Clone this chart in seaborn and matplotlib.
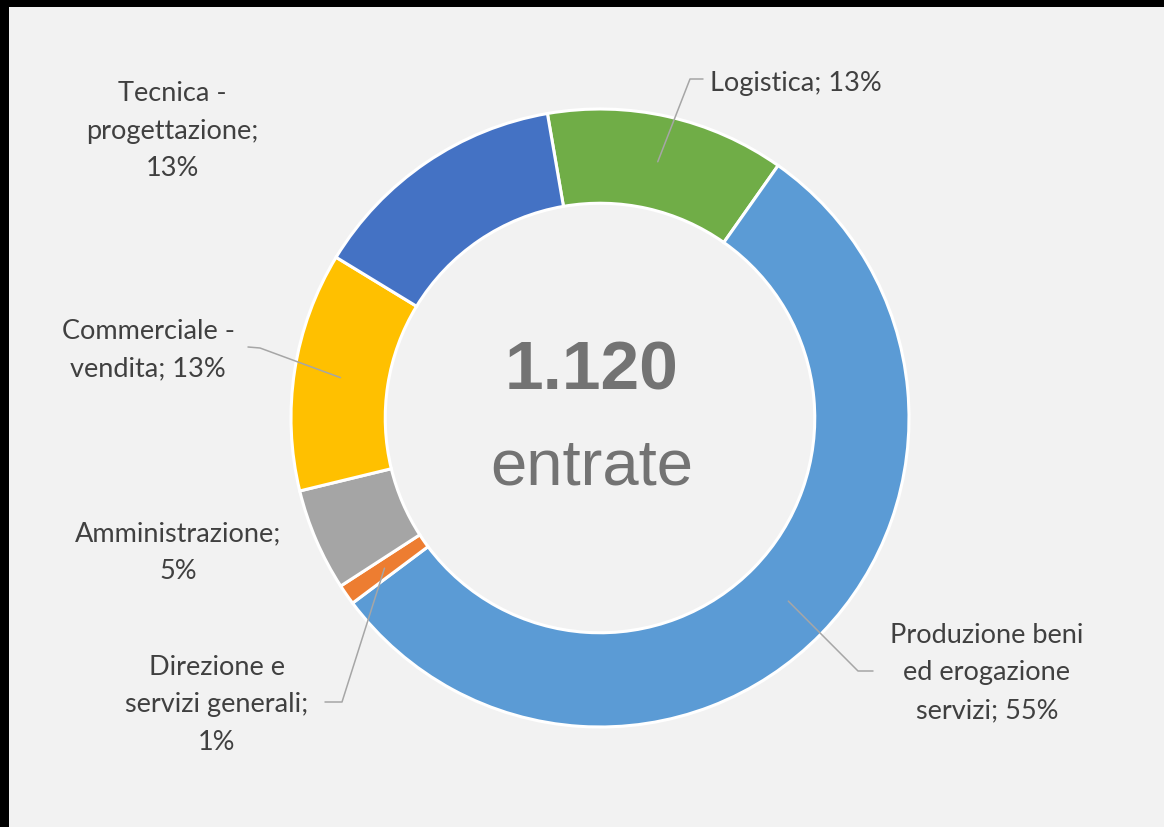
import matplotlib
matplotlib.use("Agg")
import matplotlib.pyplot as plt
import numpy as np
import seaborn as sns

sns.set_theme(style="white")
plt.rcParams['font.family'] = ['Lato', 'DejaVu Sans']

# data (counts, total 1.120)
categories = ["Logistica", "Produzione beni ed erogazione servizi", "Direzione e servizi generali",
              "Amministrazione", "Commerciale - vendita", "Tecnica - progettazione"]
counts = [140, 616, 12, 60, 140, 152]
pct_labels = ["Logistica; 13%", "Produzione beni\ned erogazione\nservizi; 55%",
              "Direzione e\nservizi generali;\n1%", "Amministrazione;\n5%",
              "Commerciale -\nvendita; 13%", "Tecnica -\nprogettazione;\n13%"]
colors = ["#70AD47", "#5B9BD5", "#ED7D31", "#A5A5A5", "#FFC000", "#4472C4"]
total_label = "1.120"
sub_label = "entrate"

W, H = 1164, 828
fig = plt.figure(figsize=(W / 100, H / 100), dpi=100, facecolor="black")
ax = fig.add_axes([9 / W, 0, 1 - 9 / W, 1 - 8 / H])
ax.set_facecolor("#f2f2f2")

cx, cy, R = 600, H - 419, 309
wedges, _ = ax.pie(counts, colors=colors, startangle=99.8, counterclock=False,
                   radius=R, center=(cx, cy), frame=True,
                   wedgeprops=dict(width=R * 0.305, edgecolor="white", linewidth=2.2))

ax.set_xlim(9, W)
ax.set_ylim(0, H - 8)
ax.set_aspect("equal")
ax.set_xticks([])
ax.set_yticks([])
for s in ax.spines.values():
    s.set_visible(False)

# label layout: text position, alignment, leader elbow and end (None = no leader)
text_pos = [(710, H - 83), (987, H - 673), (217, H - 705), (178, H - 553), (148, H - 350), (172, H - 131)]
text_ha = ["left", "center", "center", "center", "center", "center"]
elbows = [((690, H - 80), (703, H - 80)), ((858, H - 672), (873, H - 672)),
          ((342, H - 703), (325, H - 703)), None,
          ((260, H - 349), (248, H - 348)), None]

for w, lab, pos, ha, elb in zip(wedges, pct_labels, text_pos, text_ha, elbows):
    ax.text(pos[0], pos[1], lab, ha=ha, va="center", fontsize=19.5, color="#404040",
            linespacing=1.62)
    if elb is not None:
        mid = np.deg2rad((w.theta1 + w.theta2) / 2)
        ax_pt = (cx + 0.85 * R * np.cos(mid), cy + 0.85 * R * np.sin(mid))
        xs = [ax_pt[0], elb[0][0], elb[1][0]]
        ys = [ax_pt[1], elb[0][1], elb[1][1]]
        ax.plot(xs, ys, color="#a6a6a6", lw=1.1)

ax.text(592, H - 372, total_label, ha="center", va="center", fontsize=50, fontweight="bold",
        color="#737373", family="Liberation Sans")
ax.text(592, H - 468, sub_label, ha="center", va="center", fontsize=47,
        color="#737373", family="Liberation Sans")

plt.savefig("out.png", dpi=100, facecolor="black")
